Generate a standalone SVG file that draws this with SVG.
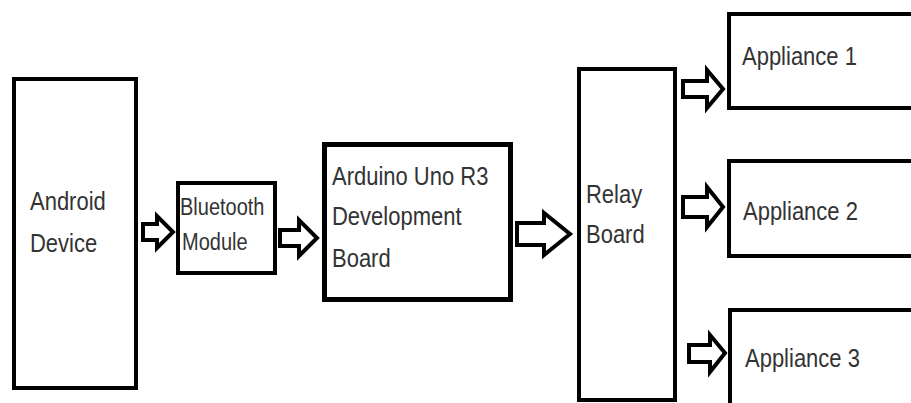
<svg xmlns="http://www.w3.org/2000/svg" width="911" height="403" viewBox="0 0 911 403">
<style>
.box{fill:#fff;stroke:#000;stroke-width:4}
.lbl{font-family:"Liberation Sans",Arial,sans-serif;font-size:22px;fill:#333}
.arr{fill:#fff;stroke:#000;stroke-width:4;stroke-linejoin:miter}
</style>
<rect width="911" height="403" fill="#fff"/>
<g id="android"><rect class="box" x="14" y="79" width="122" height="309"/><text class="lbl" transform="matrix(1,0,0,1.15,30,210)">Android</text><text class="lbl" transform="matrix(1,0,0,1.15,30,252)">Device</text></g>
<g id="bluetooth"><rect class="box" x="178" y="183" width="97" height="90"/><text class="lbl" transform="matrix(1,0,0,1.15,180,215)" style="font-size:20px">Bluetooth</text><text class="lbl" transform="matrix(1,0,0,1.15,182,250)" style="font-size:20px">Module</text></g>
<g id="arduino"><rect class="box" x="324.5" y="144.5" width="186" height="155" style="stroke-width:5"/><text class="lbl" transform="matrix(1,0,0,1.15,332,185)">Arduino Uno R3</text><text class="lbl" transform="matrix(1,0,0,1.15,332,225)">Development</text><text class="lbl" transform="matrix(1,0,0,1.15,332,267)">Board</text></g>
<g id="relay"><rect class="box" x="579" y="69" width="96" height="331"/><text class="lbl" transform="matrix(1,0,0,1.15,586,203)">Relay</text><text class="lbl" transform="matrix(1,0,0,1.15,586,243)">Board</text></g>
<g id="appliance1"><rect class="box" x="729" y="14" width="200" height="94"/><text class="lbl" transform="matrix(1,0,0,1.15,742,65)">Appliance 1</text></g>
<g id="appliance2"><rect class="box" x="729" y="161" width="200" height="95"/><text class="lbl" transform="matrix(1,0,0,1.15,743,220)">Appliance 2</text></g>
<g id="appliance3"><rect class="box" x="730" y="310" width="200" height="120"/><text class="lbl" transform="matrix(1,0,0,1.15,745,367)">Appliance 3</text></g>
<g id="connectors">
<path class="arr" d="M143,224 H157 V216 L173,232 L157,248 V240 H143 Z"/>
<path class="arr" d="M280,230 H299 V220 L317,238 L299,256 V246 H280 Z"/>
<path class="arr" d="M517,223 H544 V213 L570,234 L544,255 V245 H517 Z"/>
<path class="arr" d="M683,81 H707 V70 L723,89 L707,108 V97 H683 Z"/>
<path class="arr" d="M683,197 H707 V187 L723,207 L707,227 V217 H683 Z"/>
<path class="arr" d="M689,345 H710 V335 L725,353 L710,372 V362 H689 Z"/>
</g>
</svg>
